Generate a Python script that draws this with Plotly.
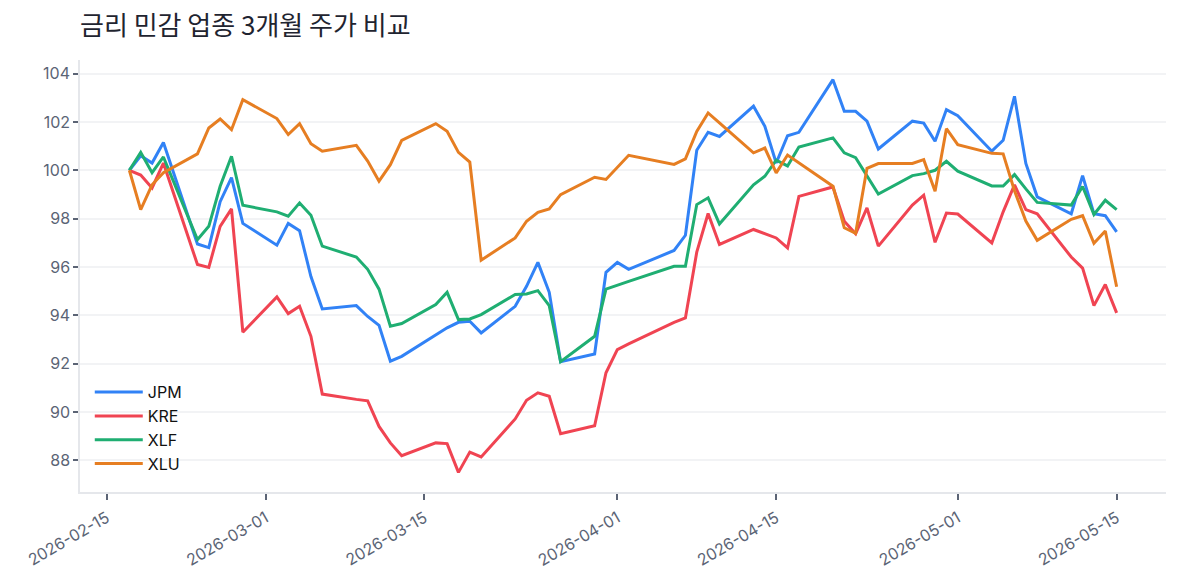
import pandas as pd
import plotly.graph_objects as go

# Trading days (NYSE, Good Friday 2026-04-03 closed)
dates = [
    "2026-02-17", "2026-02-18", "2026-02-19", "2026-02-20",
    "2026-02-23", "2026-02-24", "2026-02-25", "2026-02-26", "2026-02-27",
    "2026-03-02", "2026-03-03", "2026-03-04", "2026-03-05", "2026-03-06",
    "2026-03-09", "2026-03-10", "2026-03-11", "2026-03-12", "2026-03-13",
    "2026-03-16", "2026-03-17", "2026-03-18", "2026-03-19", "2026-03-20",
    "2026-03-23", "2026-03-24", "2026-03-25", "2026-03-26", "2026-03-27",
    "2026-03-30", "2026-03-31", "2026-04-01", "2026-04-02",
    "2026-04-06", "2026-04-07", "2026-04-08", "2026-04-09", "2026-04-10",
    "2026-04-13", "2026-04-14", "2026-04-15", "2026-04-16", "2026-04-17",
    "2026-04-20", "2026-04-21", "2026-04-22", "2026-04-23", "2026-04-24",
    "2026-04-27", "2026-04-28", "2026-04-29", "2026-04-30", "2026-05-01",
    "2026-05-04", "2026-05-05", "2026-05-06", "2026-05-07", "2026-05-08",
    "2026-05-11", "2026-05-12", "2026-05-13", "2026-05-14", "2026-05-15",
]

# Prices rebased to 100
jpm = [
    100.0, 100.6, 100.3, 101.15,
    96.95, 96.8, 98.7, 99.7, 97.8,
    96.9, 97.8, 97.5, 95.6, 94.26,
    94.4, 93.95, 93.58, 92.1, 92.3,
    93.2, 93.48, 93.71, 93.75, 93.27,
    94.37, 95.2, 96.19, 94.95, 92.08,
    92.4, 95.78, 96.19, 95.9,
    96.68, 97.31, 100.83, 101.57, 101.4,
    102.65, 101.82, 100.3, 101.43, 101.57,
    103.75, 102.44, 102.44, 102.03, 100.88,
    102.03, 101.95, 101.2, 102.51, 102.26,
    100.79, 101.24, 103.06, 100.28, 98.9,
    98.2, 99.78, 98.2, 98.12, 97.45,
]
kre = [
    100.0, 99.8, 99.27, 100.3,
    96.1, 95.98, 97.68, 98.4, 93.3,
    94.76, 94.07, 94.37, 93.13, 90.74,
    90.52, 90.46, 89.4, 88.72, 88.19,
    88.72, 88.69, 87.5, 88.34, 88.14,
    89.71, 90.48, 90.79, 90.65, 89.1,
    89.43, 91.62, 92.58, 92.82,
    93.71, 93.89, 96.61, 98.21, 96.93,
    97.55, 97.38, 97.2, 96.79, 98.92,
    99.31, 97.89, 97.37, 98.44, 96.86,
    98.56, 98.97, 97.02, 98.23, 98.19,
    96.99, 98.28, 99.4, 98.37, 98.2,
    96.41, 95.95, 94.4, 95.27, 94.1,
]
xlf = [
    100.0, 100.74, 99.9, 100.55,
    97.13, 97.68, 99.34, 100.58, 98.55,
    98.28, 98.1, 98.65, 98.14, 96.86,
    96.41, 95.9, 95.08, 93.55, 93.66,
    94.44, 94.95, 93.82, 93.85, 94.03,
    94.86, 94.88, 95.02, 94.4, 92.08,
    93.13, 95.08, 95.23, 95.4,
    96.03, 96.03, 98.58, 98.86, 97.78,
    99.4, 99.75, 100.42, 100.18, 100.96,
    101.34, 100.72, 100.52, 99.77, 99.02,
    99.78, 99.86, 100.0, 100.37, 99.96,
    99.35, 99.35, 99.82, 99.23, 98.67,
    98.56, 99.33, 98.17, 98.76, 98.37,
]
xlu = [
    100.0, 98.37, 99.4, 99.9,
    100.68, 101.75, 102.12, 101.68, 102.92,
    102.14, 101.48, 101.93, 101.1, 100.79,
    101.03, 100.38, 99.55, 100.23, 101.24,
    101.93, 101.61, 100.74, 100.34, 96.28,
    97.2, 97.89, 98.26, 98.4, 98.99,
    99.71, 99.62, 100.12, 100.62,
    100.24, 100.47, 101.61, 102.37, 101.96,
    100.72, 100.92, 99.89, 100.63, 100.3,
    99.34, 97.62, 97.39, 100.08, 100.28,
    100.28, 100.44, 99.13, 101.72, 101.06,
    100.7, 100.68, 99.15, 97.9, 97.1,
    97.97, 98.12, 96.98, 97.49, 95.18,
]

names = ["JPM", "KRE", "XLF", "XLU"]
colors = ["#3182f6", "#f04452", "#1fae72", "#e67e22"]
series = [jpm, kre, xlf, xlu]

tick_dates = ["2026-02-15", "2026-03-01", "2026-03-15", "2026-04-01",
              "2026-04-15", "2026-05-01", "2026-05-15"]

fig = go.Figure()
for name, color, values in zip(names, colors, series):
    fig.add_trace(go.Scatter(
        x=dates, y=values, name=name, mode="lines",
        line=dict(color=color, width=3),
    ))

# 5% padding around the data
d = pd.to_datetime(dates)
xpad = (d.max() - d.min()) * 0.05
all_vals = jpm + kre + xlf + xlu
ypad = (max(all_vals) - min(all_vals)) * 0.05

# page body has an 8px margin, so the figure is 8px smaller than the window
W, H = 1173, 577
axis_color = "#e5e7eb"
tick_font = dict(family="Inter, Noto Sans CJK KR, sans-serif", size=16, color="#5b6475")

fig.update_layout(
    width=W, height=H,
    margin=dict(l=72, r=15, t=52, b=93),
    paper_bgcolor="white",
    plot_bgcolor="white",
    title=dict(
        text="금리 민감 업종 3개월 주가 비교",
        x=72 / W, xanchor="left",
        y=1 - 18 / H, yanchor="middle",
        font=dict(family="Noto Sans CJK KR, sans-serif", size=26, color="#1f2430"),
    ),
    legend=dict(
        x=0.009, y=0.025, xanchor="left", yanchor="bottom",
        bgcolor="rgba(0,0,0,0)",
        font=dict(family="Inter, Noto Sans CJK KR, sans-serif", size=16, color="#111111"),
        itemwidth=48,
    ),
    showlegend=True,
)

fig.update_xaxes(
    type="date",
    range=[d.min() - xpad, d.max() + xpad],
    tickvals=tick_dates,
    tickformat="%Y-%m-%d",
    tickangle=-30,
    tickfont=tick_font,
    showgrid=False,
    showline=True, linecolor=axis_color, linewidth=1.5,
    ticks="outside", ticklen=6, tickcolor="#5b6475", tickwidth=1.5,
    ticklabelstandoff=3,
    zeroline=False,
)
fig.update_yaxes(
    range=[min(all_vals) - ypad, max(all_vals) + ypad],
    dtick=2,
    tickfont=tick_font,
    showgrid=True, gridcolor="#f2f3f5", gridwidth=1.5,
    showline=True, linecolor=axis_color, linewidth=1.5,
    ticks="outside", ticklen=5, tickcolor="#5b6475", tickwidth=1.5,
    zeroline=False,
)

fig.write_html("out.html")
